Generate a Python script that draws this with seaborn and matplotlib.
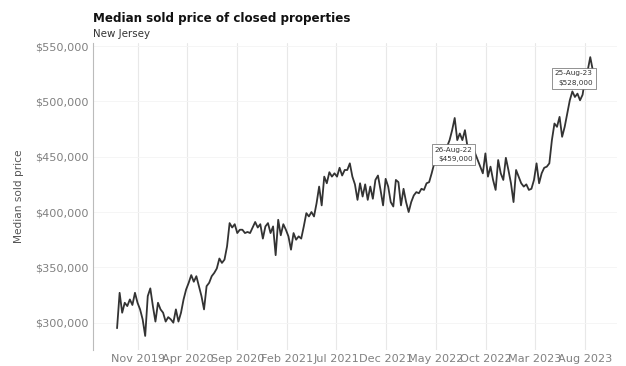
import pandas as pd
import matplotlib
matplotlib.use("Agg")
import matplotlib.pyplot as plt
import matplotlib.ticker as mticker
import seaborn as sns

# Median sold price, weekly-ish, New Jersey
prices = [
    295000, 327000, 309000, 318000, 315000, 321000, 316000, 327000, 318000, 312000,
    303000, 288000, 324000, 331000, 315000, 301000, 318000, 312000, 309000, 301000,
    305000, 303000, 300000, 312000, 301000, 309000, 321000, 330000, 336000, 343000,
    337000, 342000, 333000, 324000, 312000, 333000, 336000, 342000, 345000, 349000,
    358000, 354000, 357000, 369000, 390000, 386000, 389000, 381000, 384000, 384000,
    381000, 382000, 381000, 386000, 391000, 386000, 389000, 376000, 387000, 390000,
    381000, 387000, 361000, 393000, 379000, 389000, 384000, 378000, 366000, 381000,
    375000, 378000, 376000, 387000, 399000, 396000, 400000, 396000, 408000, 423000,
    406000, 432000, 426000, 436000, 432000, 435000, 432000, 440000, 433000, 438000,
    438000, 444000, 432000, 425000, 411000, 426000, 414000, 425000, 411000, 423000,
    412000, 429000, 433000, 420000, 406000, 430000, 423000, 409000, 405000, 429000,
    427000, 406000, 421000, 409000, 400000, 409000, 415000, 418000, 417000, 421000,
    420000, 426000, 427000, 435000, 444000, 447000, 447000, 451000, 456000, 459000,
    465000, 474000, 485000, 465000, 471000, 465000, 474000, 459000, 456000, 459000,
    453000, 447000, 441000, 435000, 453000, 432000, 441000, 429000, 420000, 447000,
    435000, 429000, 449000, 438000, 426000, 409000, 438000, 432000, 426000, 423000,
    425000, 420000, 421000, 429000, 444000, 426000, 435000, 440000, 441000, 444000,
    465000, 480000, 477000, 486000, 468000, 477000, 489000, 501000, 509000, 504000,
    507000, 501000, 506000, 521000, 528000, 540000, 528000,
]
first_week = "2019-08-30"
last_week = "2023-08-25"

tick_labels = ["Nov 2019", "Apr 2020", "Sep 2020", "Feb 2021", "Jul 2021",
               "Dec 2021", "May 2022", "Oct 2022", "Mar 2023", "Aug 2023"]
marked_dates = ["2022-08-26", "2023-08-25"]

df = pd.DataFrame({
    "date": pd.date_range(first_week, last_week, periods=len(prices)),
    "price": prices,
})

sns.set_theme(style="white")
plt.rcParams["font.family"] = ["DejaVu Sans"]

fig = plt.figure(figsize=(6.26, 3.66), dpi=100)
ax = fig.add_axes([0.149, 0.044, 0.836, 0.838])

sns.lineplot(data=df, x="date", y="price", ax=ax, color="#333333", linewidth=1.3)

ax.set_xticks(pd.to_datetime(tick_labels, format="%b %Y"))
ax.set_xticklabels(tick_labels)
ax.yaxis.set_major_formatter(mticker.StrMethodFormatter("${x:,.0f}"))
ax.set_yticks([300000, 350000, 400000, 450000, 500000, 550000])

ax.grid(axis="x", color="#e8e8e8", linewidth=0.8)
ax.grid(axis="y", color="#f4f4f4", linewidth=0.6)
for side in ["top", "right", "bottom"]:
    ax.spines[side].set_visible(False)
ax.spines["left"].set_color("#bbbbbb")
ax.spines["left"].set_linewidth(0.8)
ax.tick_params(axis="both", labelsize=8.1, colors="#808080", length=0, pad=3)
ax.set_xlabel("")
ax.set_ylabel("Median sold price", fontsize=7.6, color="#555555", labelpad=8)

for d in marked_dates:
    row = df.iloc[(df["date"] - pd.Timestamp(d)).abs().argmin()]
    txt = pd.Timestamp(d).strftime("%d-%b-%y") + "\n" + f"${row['price']:,.0f}"
    ax.annotate(txt, xy=(row["date"], row["price"]), ha="right", va="top",
                fontsize=5.2, color="#333333", linespacing=1.7,
                bbox=dict(boxstyle="square,pad=0.4", fc="white", ec="#666666", lw=0.5))

fig.text(0.149, 0.94, "Median sold price of closed properties", fontsize=8.6,
         fontweight="bold", color="#111111", ha="left")
fig.text(0.149, 0.9, "New Jersey", fontsize=7.4, color="#333333", ha="left")

fig.savefig("out.png", dpi=100)
